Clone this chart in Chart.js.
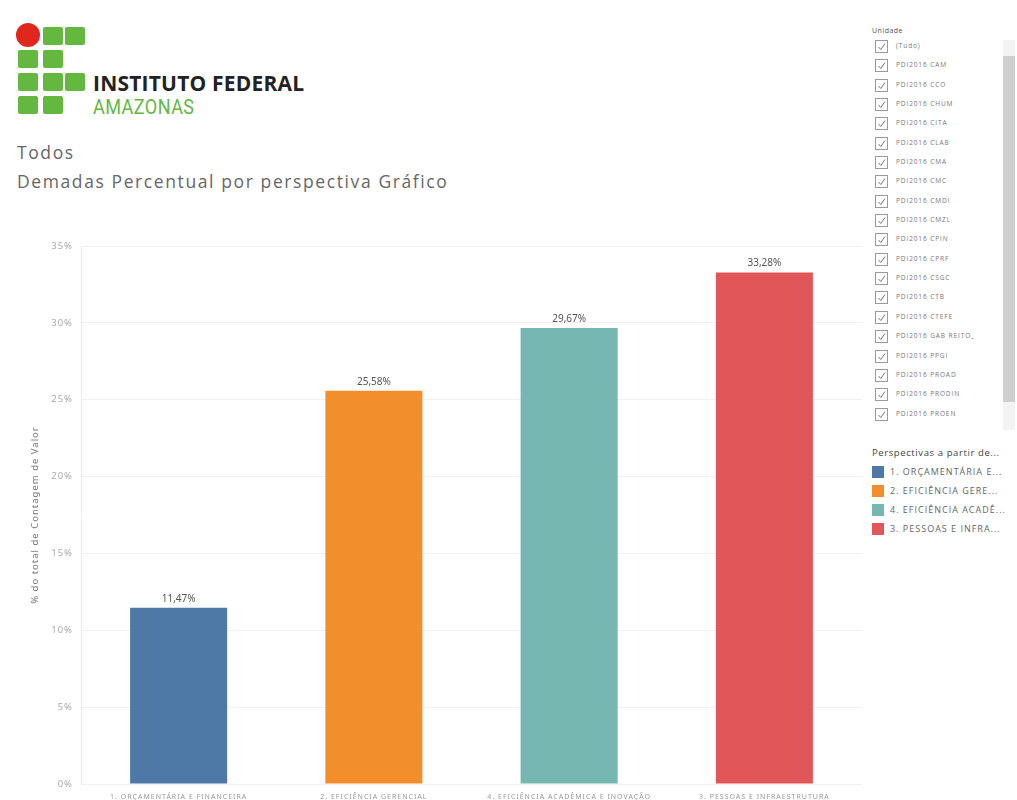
<!DOCTYPE html>
<html>
<head>
<meta charset="utf-8">
<script src="https://cdn.jsdelivr.net/npm/chart.js@4/dist/chart.umd.min.js"></script>
<style>
  body { margin: 0; background: #fff; width: 1017px; height: 800px; overflow: hidden; position: relative; font-family: "Open Sans", sans-serif; }
  .sq { position: absolute; width: 20px; height: 18px; background: #64b83f; border-radius: 2px; }
  #dot { position: absolute; left: 16px; top: 23px; width: 24px; height: 24px; border-radius: 50%; background: #e0261d; }
  #inst { position: absolute; left: 93px; top: 69px; font: bold 21px "Open Sans", sans-serif; color: #222; letter-spacing: 0.2px; }
  #amaz { position: absolute; left: 93px; top: 95px; font: 21px Roboto, sans-serif; color: #64b83f; transform: scaleX(0.86); transform-origin: left; letter-spacing: 0.5px; }
  .ttl { position: absolute; left: 17px; font-size: 17.5px; color: #666; letter-spacing: 1.6px; }
  #chartBox { position: absolute; left: 0; top: 220px; width: 870px; height: 580px; }
  #filter { position: absolute; left: 872px; top: 26px; width: 145px; }
  #filter .hd { font-size: 7px; color: #555; height: 14px; letter-spacing: 0.5px; }
  #filter .row { position: relative; height: 19.35px; }
  #filter .cb { position: absolute; left: 3px; top: 0; width: 11px; height: 11px; border: 1px solid #9a9a9a; }
  #filter .cb svg { display: block; }
  #filter .tx { position: absolute; left: 24px; top: 1px; font-size: 6.5px; color: #777; white-space: nowrap; letter-spacing: 0.9px; }
  #scroll { position: absolute; left: 1003px; top: 40px; width: 12px; height: 390px; background: #f3f3f3; }
  #thumb { position: absolute; left: 1003px; top: 56px; width: 12px; height: 346px; background: #cfcfcf; }
  #legend { position: absolute; left: 872px; top: 446px; }
  #legend .lt { font-size: 9.5px; color: #444; height: 20px; letter-spacing: 0.6px; white-space: nowrap; }
  #legend .li { position: relative; height: 19px; }
  #legend .sw { position: absolute; left: 0; top: 0; width: 12px; height: 12px; }
  #legend .lx { position: absolute; left: 18px; top: -1px; font-size: 9px; color: #666; white-space: nowrap; letter-spacing: 1px; }
</style>
</head>
<body>
<div class="sq" style="left:43px;top:27px"></div>
<div class="sq" style="left:65px;top:27px"></div>
<div class="sq" style="left:18px;top:50px"></div>
<div class="sq" style="left:43px;top:50px"></div>
<div class="sq" style="left:18px;top:73px"></div>
<div class="sq" style="left:43px;top:73px"></div>
<div class="sq" style="left:65px;top:73px"></div>
<div class="sq" style="left:18px;top:96px"></div>
<div class="sq" style="left:43px;top:96px"></div>
<div id="dot"></div>
<div id="inst">INSTITUTO FEDERAL</div>
<div id="amaz">AMAZONAS</div>
<div class="ttl" style="top:140px">Todos</div>
<div class="ttl" style="top:169px">Demadas Percentual por perspectiva Gráfico</div>

<div id="chartBox"><canvas id="demandasChart"></canvas></div>

<div id="scroll"></div>
<div id="thumb"></div>
<div id="filter"></div>
<div id="legend"></div>

<script>
// categorias e valores (% do total)
var categorias = ['1. ORÇAMENTÁRIA E FINANCEIRA', '2. EFICIÊNCIA GERENCIAL', '4. EFICIÊNCIA ACADÊMICA E INOVAÇÃO', '3. PESSOAS E INFRAESTRUTURA'];
var legendaNomes = ['1. ORÇAMENTÁRIA E...', '2. EFICIÊNCIA GERE...', '4. EFICIÊNCIA ACADÊ...', '3. PESSOAS E INFRA...'];
var percentuais = [11.47, 25.58, 29.67, 33.28];
var cores = ['#4e79a7', '#f28e2b', '#76b7b2', '#e15759'];
var yTicks = [0, 5, 10, 15, 20, 25, 30, 35];
var unidades = ['(Tudo)', 'PDI2016 CAM', 'PDI2016 CCO', 'PDI2016 CHUM', 'PDI2016 CITA', 'PDI2016 CLAB', 'PDI2016 CMA', 'PDI2016 CMC', 'PDI2016 CMDI', 'PDI2016 CMZL', 'PDI2016 CPIN', 'PDI2016 CPRF', 'PDI2016 CSGC', 'PDI2016 CTB', 'PDI2016 CTEFE', 'PDI2016 GAB REITO_', 'PDI2016 PPGI', 'PDI2016 PROAD', 'PDI2016 PRODIN', 'PDI2016 PROEN'];

// filtro lateral
var filtro = document.getElementById('filter');
var html = '<div class="hd">Unidade</div>';
unidades.forEach(function (u) {
    html += '<div class="row"><div class="cb"><svg width="11" height="11"><polyline points="2.5,6 4.8,8.5 9,2.5" fill="none" stroke="#777" stroke-width="1"/></svg></div><div class="tx">' + u + '</div></div>';
});
filtro.innerHTML = html;

// legenda
var leg = document.getElementById('legend');
var lh = '<div class="lt">Perspectivas a partir de...</div>';
legendaNomes.forEach(function (n, i) {
    lh += '<div class="li"><div class="sw" style="background:' + cores[i] + '"></div><div class="lx">' + n + '</div></div>';
});
leg.innerHTML = lh;

// espaçamento de letras dos eixos + rótulos das barras
var rotulosPlugin = {
    id: 'rotulos',
    beforeDraw: function (chart) {
        chart.ctx.letterSpacing = '1px';
    },
    afterDatasetsDraw: function (chart) {
        var ctx = chart.ctx;
        var meta = chart.getDatasetMeta(0);
        ctx.save();
        ctx.letterSpacing = '0px';
        ctx.font = '10px "Noto Sans", sans-serif';
        ctx.fillStyle = '#555';
        ctx.textAlign = 'center';
        ctx.textBaseline = 'bottom';
        meta.data.forEach(function (bar, i) {
            ctx.fillText(percentuais[i].toFixed(2).replace('.', ',') + '%', bar.x, bar.y - 4);
        });
        ctx.restore();
    }
};

var ctx = document.getElementById('demandasChart').getContext('2d');
var demandasChart = new Chart(ctx, {
    type: 'bar',
    data: {
        labels: categorias,
        datasets: [{
            data: percentuais,
            backgroundColor: cores,
            categoryPercentage: 1,
            barPercentage: 0.497
        }]
    },
    options: {
        responsive: true,
        maintainAspectRatio: false,
        animation: false,
        layout: { padding: { top: 26, right: 8, left: 0, bottom: 0 } },
        plugins: {
            legend: { display: false },
            tooltip: { enabled: false }
        },
        scales: {
          x: {
            grid: { display: false },
            border: { display: false },
            ticks: {
                font: { size: 7, family: '"Noto Sans", sans-serif' },
                color: '#9a9a9a',
                padding: 1,
                maxRotation: 0,
                autoSkip: false
            },
            afterFit: function (s) { s.height = 16; }
          },
          y: {
            min: 0,
            max: 35,
            afterBuildTicks: function (s) {
                s.ticks = yTicks.map(function (v) { return { value: v }; });
            },
            grid: { color: '#f1f1f1', drawTicks: false },
            border: { display: true, color: '#ececec' },
            ticks: {
                font: { size: 9.5, family: '"Noto Sans", sans-serif' },
                color: '#aaa',
                padding: 8,
                callback: function (v) { return v + '%'; }
            },
            title: {
                display: true,
                text: '% do total de Contagem de Valor',
                color: '#777',
                font: { size: 9.5, family: '"Noto Sans", sans-serif' },
                padding: { top: 30, bottom: 0 }
            },
            afterFit: function (s) { s.width = 81; }
          }
        }
      },
    plugins: [rotulosPlugin]
});
</script>
</body>
</html>
